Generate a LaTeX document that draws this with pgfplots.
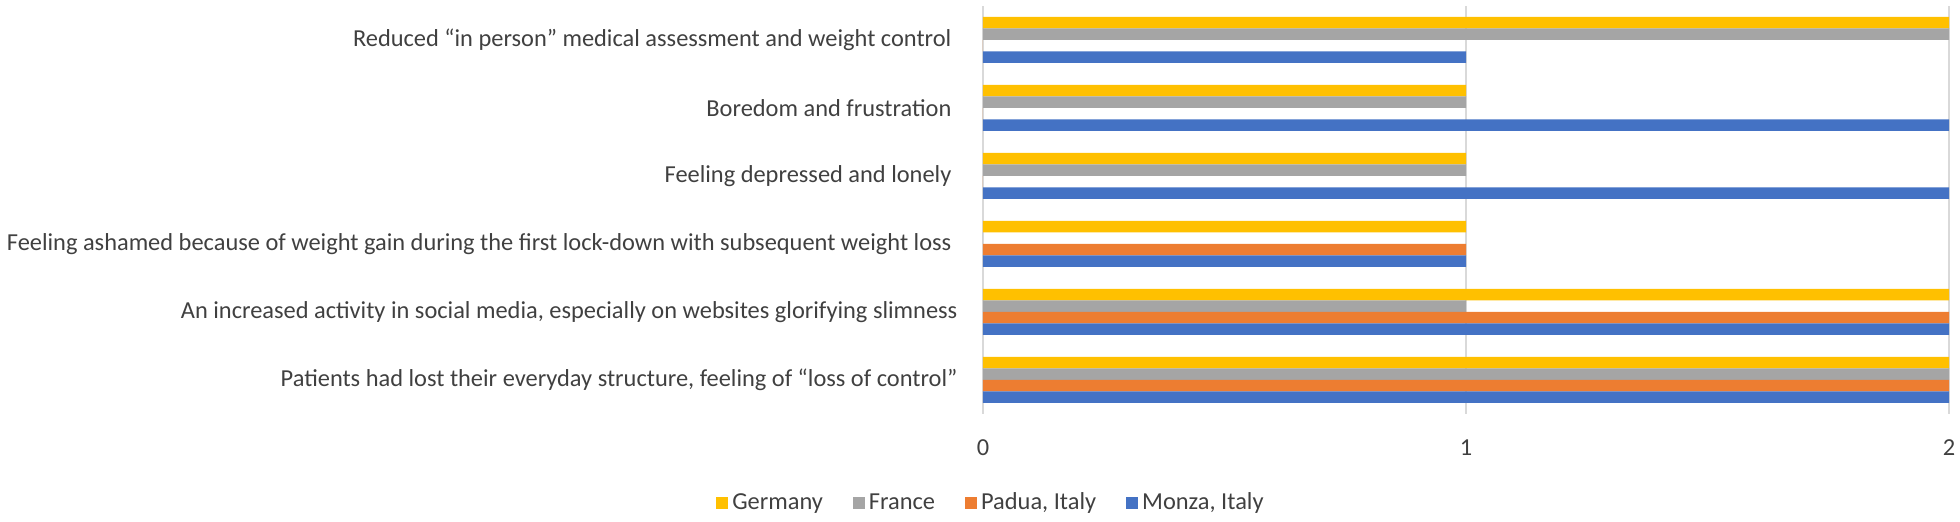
\documentclass[border=0pt]{standalone}
\usepackage{fontspec}
\setmainfont{Carlito}
\usepackage{pgfplots}
\pgfplotsset{compat=1.18}
\definecolor{cGer}{HTML}{FFC000}
\definecolor{cFra}{HTML}{A5A5A5}
\definecolor{cPad}{HTML}{ED7D31}
\definecolor{cMon}{HTML}{4472C4}
\definecolor{cGrid}{HTML}{D9D9D9}
\definecolor{cText}{HTML}{404040}
\begin{document}
\begin{tikzpicture}
\path[use as bounding box] (0,0) rectangle (980pt,261pt);
\begin{axis}[
  at={(491.5pt,54pt)}, anchor=south west,
  scale only axis,
  width=483pt, height=204pt,
  xbar, bar width=5.75pt,
  xmin=0, xmax=2,
  ymin=-0.5, ymax=5.5,
  xtick={0,1,2}, xticklabels={0,1,2},
  ytick={0,1,2,3,4,5},
  yticklabels={
    {Patients had lost their everyday structure, feeling of “loss of control”},
    {An increased activity in social media, especially on websites glorifying slimness},
    {Feeling ashamed because of weight gain during the first lock-down with subsequent weight loss\hspace*{3pt}},
    {Feeling depressed and lonely\hspace*{3pt}},
    {Boredom and frustration\hspace*{3pt}},
    {Reduced “in person” medical assessment and weight control\hspace*{3pt}}
  },
  font=\fontsize{12.2}{14}\selectfont,
  every tick label/.append style={text=cText, font=\fontsize{12.2}{14}\selectfont},
  yticklabel style={xshift=-5pt},
  xticklabel style={yshift=-9.5pt},
  axis line style={draw=none},
  tick style={draw=none},
  xmajorgrids, major grid style={cGrid, line width=0.6pt},
  legend columns=4,
  legend style={at={(0.0093,-0.218)}, anchor=center, draw=none, fill=none,
    font=\fontsize{12.2}{14}\selectfont, text=cText,
    /tikz/every even column/.append style={column sep=13pt}},
  legend image code/.code={\fill[#1] (0pt,-3pt) rectangle (6pt,3pt);},
]
\addplot[fill=cGer, draw=none, bar shift=8.625pt] coordinates {(2,0) (2,1) (1,2) (1,3) (1,4) (2,5)};
\addlegendentry{Germany}
\addplot[fill=cFra, draw=none, bar shift=2.875pt] coordinates {(2,0) (1,1) (0,2) (1,3) (1,4) (2,5)};
\addlegendentry{France}
\addplot[fill=cPad, draw=none, bar shift=-2.875pt] coordinates {(2,0) (2,1) (1,2) (0,3) (0,4) (0,5)};
\addlegendentry{Padua, Italy}
\addplot[fill=cMon, draw=none, bar shift=-8.625pt] coordinates {(2,0) (2,1) (1,2) (2,3) (2,4) (1,5)};
\addlegendentry{Monza, Italy}
\end{axis}
\end{tikzpicture}
\end{document}
